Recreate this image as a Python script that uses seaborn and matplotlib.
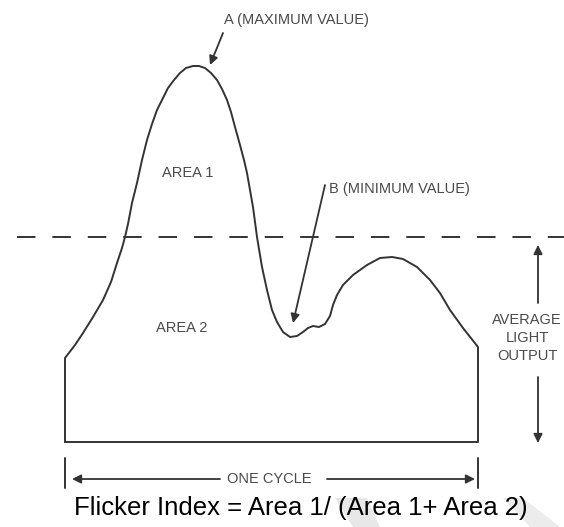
import matplotlib
matplotlib.use('Agg')
import matplotlib.pyplot as plt
import seaborn as sns
import pandas as pd

sns.set_style('white')
plt.rcParams['font.family'] = ['Liberation Sans', 'DejaVu Sans']

# one cycle of light output (time along the cycle, light level above the base)
cycle_t = [0, 0, 10, 18, 28, 38, 46, 52, 57, 60, 63, 67, 72, 77, 82, 87, 92, 98, 103, 109,
           115, 121, 128, 134, 140, 146, 152, 157, 162, 166, 170, 175, 179, 182, 185, 188,
           192, 197, 202, 207, 212, 218, 225, 232, 238, 243, 248, 254, 260, 265, 268, 272,
           278, 288, 302, 315, 327, 338, 352, 365, 375, 385, 398, 413, 413, 0]
light_level = [0, 84, 97, 109, 125, 142, 160, 179, 194, 205, 218, 239, 259, 282, 302, 318,
               332, 344, 354, 362, 369, 374, 376, 376, 374, 369, 362, 353, 342, 330, 315, 297,
               282, 269, 252, 235, 205, 175, 152, 132, 120, 110, 105, 106, 110, 114, 116, 115,
               118, 126, 137, 147, 157, 167, 177, 184, 185, 183, 175, 162, 149, 132, 114, 95,
               0, 0]
average_level = 205
cycle_length = 413

df = pd.DataFrame({'t': cycle_t, 'level': light_level})

ink = '#333333'
label_grey = '#4a4a4a'
small = 10.5

fig = plt.figure(figsize=(5.64, 5.27), dpi=100)
ax = fig.add_axes([0, 0, 1, 1])

# faint watermark shapes behind the formula
ax.fill([270, 302, 315, 288], [-56, -56, -85, -85], color='#e8e8e8', lw=0, zorder=0)
ax.fill([438, 458, 495, 465], [-56, -56, -85, -85], color='#ececec', lw=0, zorder=0)

sns.lineplot(data=df, x='t', y='level', sort=False, estimator=None,
             color=ink, lw=1.4, ax=ax)
ax.plot([-48, 499], [average_level, average_level], color=ink, lw=1.4,
        dashes=(9.5, 8.7))

ax.set_xlim(-65, 499)
ax.set_ylim(-85, 442)
ax.axis('off')

arrow = dict(arrowstyle='-|>', color=ink, lw=1.3, mutation_scale=13,
             shrinkA=0, shrinkB=0)

# labels and pointers
ax.annotate('', xy=(145, 377), xytext=(158, 409), arrowprops=arrow)
ax.text(231, 422, 'A (MAXIMUM VALUE)', ha='center', va='center', fontsize=small,
        color=label_grey)
ax.annotate('', xy=(228, 119), xytext=(260, 257), arrowprops=arrow)
ax.text(334, 253, 'B (MINIMUM VALUE)', ha='center', va='center', fontsize=small,
        color=label_grey)
ax.text(123, 269, 'AREA 1', ha='center', va='center', fontsize=small,
        color=label_grey)
ax.text(117, 114, 'AREA 2', ha='center', va='center', fontsize=small,
        color=label_grey)

# average light output
ax.annotate('', xy=(473, 197), xytext=(473, 139), arrowprops=arrow)
ax.annotate('', xy=(473, -1), xytext=(473, 65), arrowprops=arrow)
ax.text(462, 104, 'AVERAGE\nLIGHT\nOUTPUT', ha='center', va='center', fontsize=small,
        color=label_grey, linespacing=1.35)

# one cycle
for t in [0, cycle_length]:
    ax.plot([t, t], [-16, -46], color=ink, lw=1.4)
ax.annotate('', xy=(7, -37), xytext=(155, -37), arrowprops=arrow)
ax.annotate('', xy=(410, -37), xytext=(262, -37), arrowprops=arrow)
ax.text(204.5, -37, 'ONE CYCLE', ha='center', va='center', fontsize=small,
        color=label_grey)

ax.text(236, -66, 'Flicker Index = Area 1/ (Area 1+ Area 2)', ha='center',
        va='center', fontsize=18.5, color='black')

fig.savefig('out.png', dpi=100)
